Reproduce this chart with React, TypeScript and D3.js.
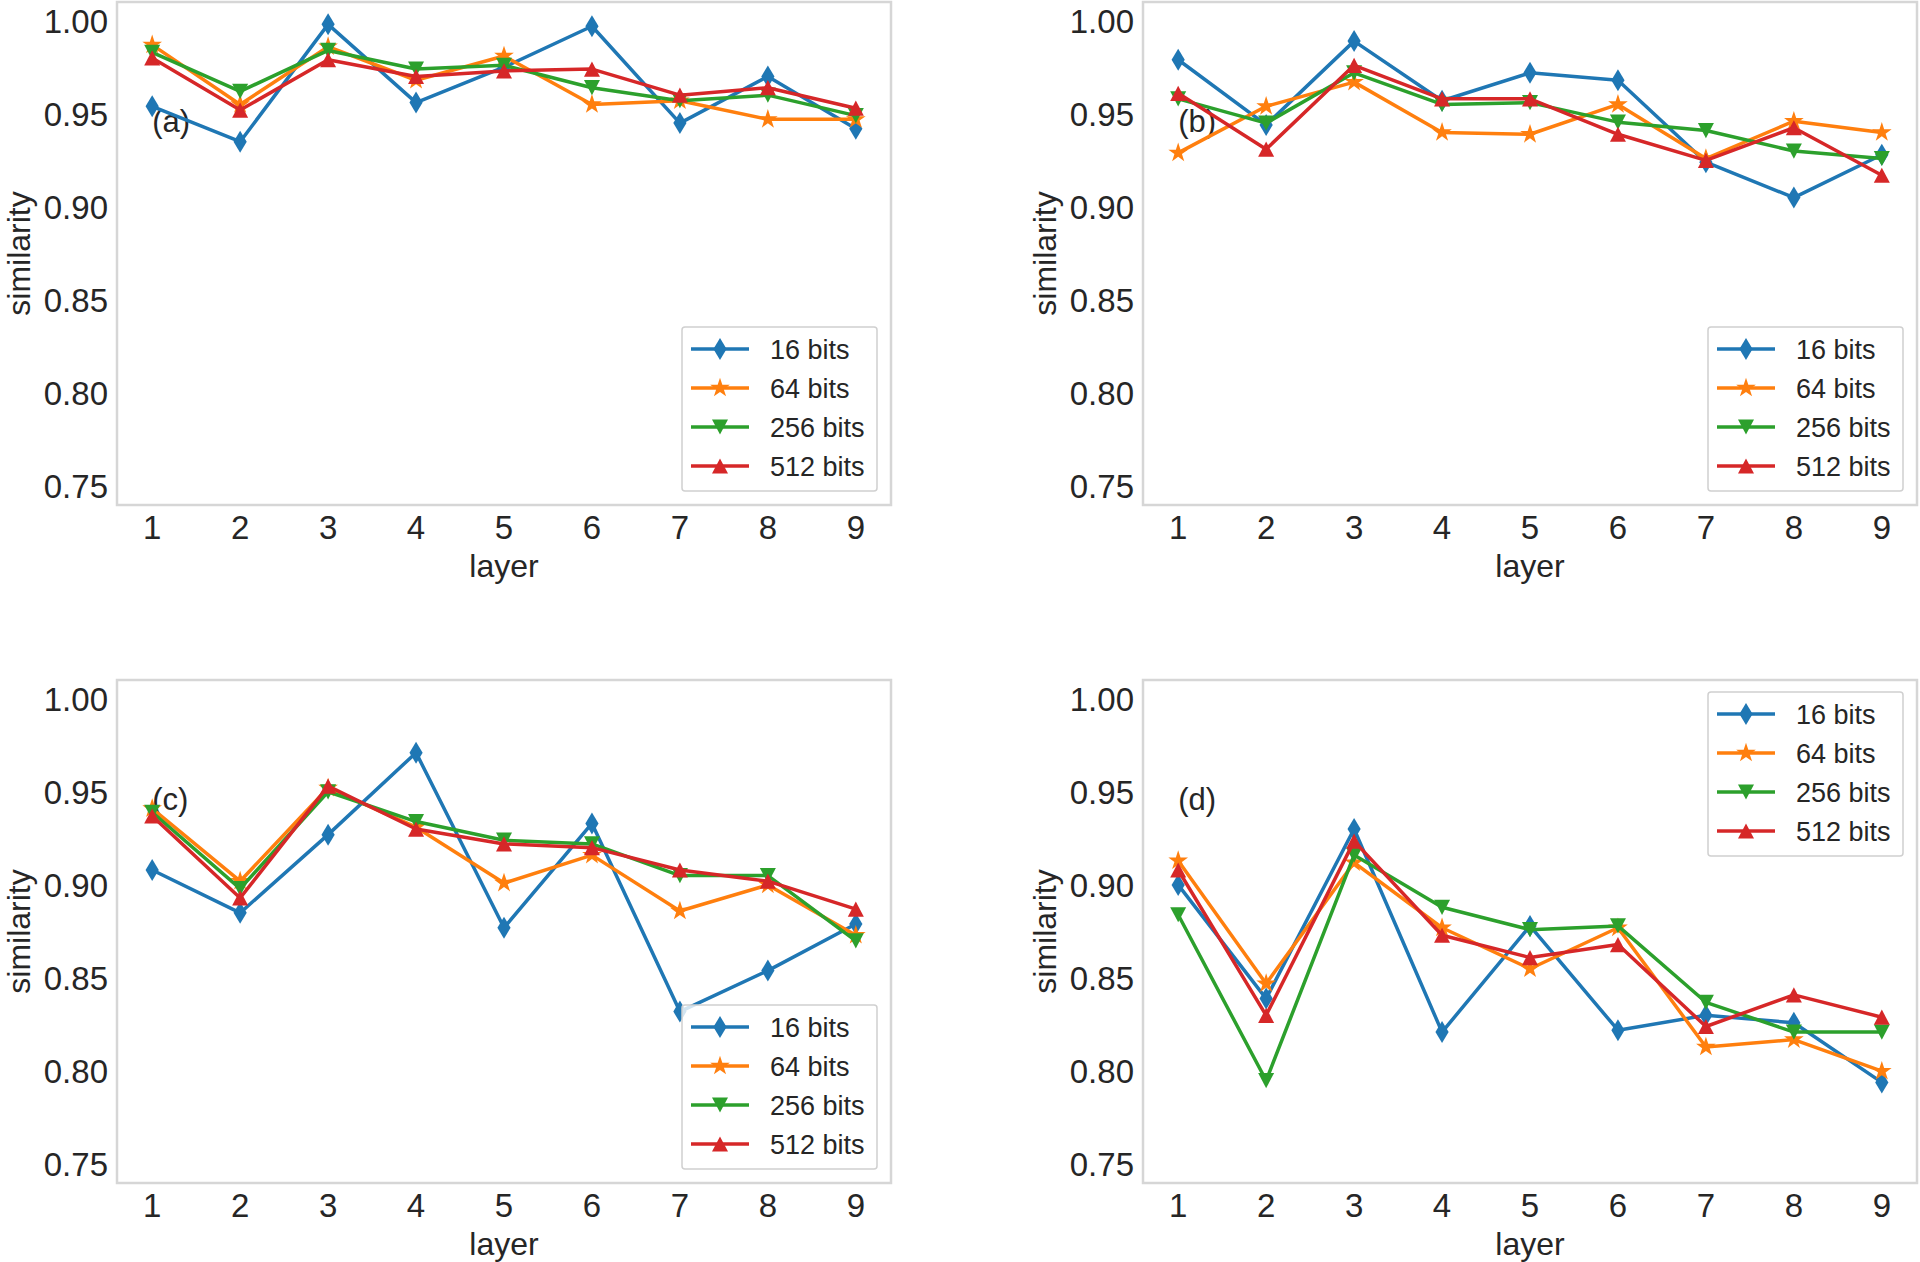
import * as d3 from "d3"

const layers = [1, 2, 3, 4, 5, 6, 7, 8, 9]
const seriesNames = ["16 bits", "64 bits", "256 bits", "512 bits"]
const seriesColors = ["#1f77b4", "#ff7f0e", "#2ca02c", "#d62728"]
const yTicks = [0.75, 0.8, 0.85, 0.9, 0.95, 1.0]
const panelTags = ["(a)", "(b)", "(c)", "(d)"]

// panel (a)
const a16 = [0.954, 0.935, 0.998, 0.956, 0.975, 0.997, 0.945, 0.97, 0.942]
const a64 = [0.987, 0.955, 0.986, 0.968, 0.981, 0.955, 0.957, 0.947, 0.947]
const a256 = [0.983, 0.962, 0.984, 0.974, 0.976, 0.964, 0.957, 0.96, 0.949]
const a512 = [0.98, 0.952, 0.979, 0.97, 0.973, 0.974, 0.96, 0.964, 0.953]

// panel (b)
const b16 = [0.979, 0.944, 0.989, 0.957, 0.972, 0.968, 0.924, 0.905, 0.928]
const b64 = [0.929, 0.954, 0.967, 0.94, 0.939, 0.955, 0.926, 0.946, 0.94]
const b256 = [0.958, 0.945, 0.972, 0.955, 0.956, 0.9455, 0.941, 0.93, 0.926]
const b512 = [0.961, 0.931, 0.976, 0.958, 0.958, 0.939, 0.925, 0.9425, 0.917]

// panel (c)
const c16 = [0.908, 0.885, 0.927, 0.971, 0.877, 0.933, 0.832, 0.854, 0.879]
const c64 = [0.941, 0.902, 0.952, 0.931, 0.901, 0.916, 0.886, 0.9, 0.873]
const c256 = [0.939, 0.898, 0.95, 0.934, 0.924, 0.922, 0.905, 0.905, 0.87]
const c512 = [0.937, 0.893, 0.953, 0.93, 0.922, 0.92, 0.908, 0.902, 0.887]

// panel (d)
const d16 = [0.9, 0.839, 0.93, 0.821, 0.878, 0.822, 0.83, 0.826, 0.794]
const d64 = [0.913, 0.847, 0.912, 0.877, 0.855, 0.877, 0.813, 0.817, 0.8]
const d256 = [0.884, 0.795, 0.916, 0.888, 0.876, 0.878, 0.837, 0.821, 0.821]
const d512 = [0.908, 0.83, 0.9235, 0.873, 0.861, 0.868, 0.824, 0.841, 0.829]

const panelData = [
  [a16, a64, a256, a512],
  [b16, b64, b256, b512],
  [c16, c64, c256, c512],
  [d16, d64, d256, d512],
]

const FONT = "'Liberation Sans', Arial, sans-serif"
const TEXT = "#262626"

// marker paths centred on the point
function markerPath(kind: number, s: number) {
  if (kind === 0) {
    const h = s * 0.55
    const w = s * 0.33
    return `M0,${-h}L${w},0L0,${h}L${-w},0Z`
  }
  if (kind === 1) {
    return d3.symbol(d3.symbolStar, s * s * 0.3)() || ""
  }
  const w = s * 0.4
  const h = s * 0.38
  if (kind === 2) return `M${-w},${-h}L${w},${-h}L0,${h}Z`
  return `M${-w},${h}L${w},${h}L0,${-h}Z`
}

interface PanelProps {
  left: number
  top: number
  data: number[][]
  tag: string
  legendTop: boolean
}

function Panel({ left, top, data, tag, legendTop }: PanelProps) {
  const width = 774
  const height = 503
  const x = d3.scaleLinear().domain([0.6, 9.4]).range([left, left + width])
  const y = d3.scaleLinear().domain([0.74, 1.01]).range([top + height, top])
  const line = d3
    .line<number>()
    .x((_, i) => x(layers[i]))
    .y((d) => y(d))

  const legW = 195
  const legH = 164
  const legX = left + width - 14 - legW
  const legY = legendTop ? top + 12 : top + height - 14 - legH

  return (
    <g>
      <rect x={left} y={top} width={width} height={height} fill="white" stroke="#d6d6d6" strokeWidth={2.5} />
      {yTicks.map((t) => (
        <text
          key={t}
          x={left - 9}
          y={y(t)}
          dy="0.36em"
          textAnchor="end"
          fontSize={33}
          fill={TEXT}
          fontFamily={FONT}
        >
          {t.toFixed(2)}
        </text>
      ))}
      {layers.map((l) => (
        <text key={l} x={x(l)} y={top + height + 34} textAnchor="middle" fontSize={33} fill={TEXT} fontFamily={FONT}>
          {l}
        </text>
      ))}
      <text
        x={x(5)}
        y={top + height + 72}
        textAnchor="middle"
        fontSize={32}
        fill={TEXT}
        fontFamily={FONT}
      >
        layer
      </text>
      <text
        transform={`translate(${left - 87},${top + height / 2}) rotate(-90)`}
        textAnchor="middle"
        fontSize={32}
        fill={TEXT}
        fontFamily={FONT}
      >
        similarity
      </text>
      <text x={x(1)} y={y(0.94)} fontSize={31} fill={TEXT} fontFamily={FONT}>
        {tag}
      </text>
      {data.map((vals, si) => (
        <g key={si}>
          <path d={line(vals) || ""} fill="none" stroke={seriesColors[si]} strokeWidth={3.5} strokeLinejoin="round" />
          {vals.map((v, i) => (
            <path
              key={i}
              d={markerPath(si, 20)}
              transform={`translate(${x(layers[i])},${y(v)})`}
              fill={seriesColors[si]}
            />
          ))}
        </g>
      ))}
      <rect
        x={legX}
        y={legY}
        width={legW}
        height={legH}
        rx={3}
        fill="white"
        fillOpacity={0.8}
        stroke="#d0d0d0"
        strokeWidth={1.5}
      />
      {seriesNames.map((name, si) => {
        const cy = legY + 22 + si * 39
        return (
          <g key={name}>
            <line x1={legX + 9} x2={legX + 67} y1={cy} y2={cy} stroke={seriesColors[si]} strokeWidth={3.5} />
            <path d={markerPath(si, 20)} transform={`translate(${legX + 38},${cy})`} fill={seriesColors[si]} />
            <text x={legX + 88} y={cy} dy="0.36em" fontSize={27} fill={TEXT} fontFamily={FONT}>
              {name}
            </text>
          </g>
        )
      })}
    </g>
  )
}

export default function App() {
  const positions = [
    { left: 117, top: 2, legendTop: false },
    { left: 1143, top: 2, legendTop: false },
    { left: 117, top: 680, legendTop: false },
    { left: 1143, top: 680, legendTop: true },
  ]
  return (
    <svg
      width={1920}
      height={1262}
      style={{ position: "absolute", left: 0, top: 0, background: "white" }}
    >
      <rect width={1920} height={1262} fill="white" />
      {positions.map((p, i) => (
        <Panel key={i} left={p.left} top={p.top} data={panelData[i]} tag={panelTags[i]} legendTop={p.legendTop} />
      ))}
    </svg>
  )
}
